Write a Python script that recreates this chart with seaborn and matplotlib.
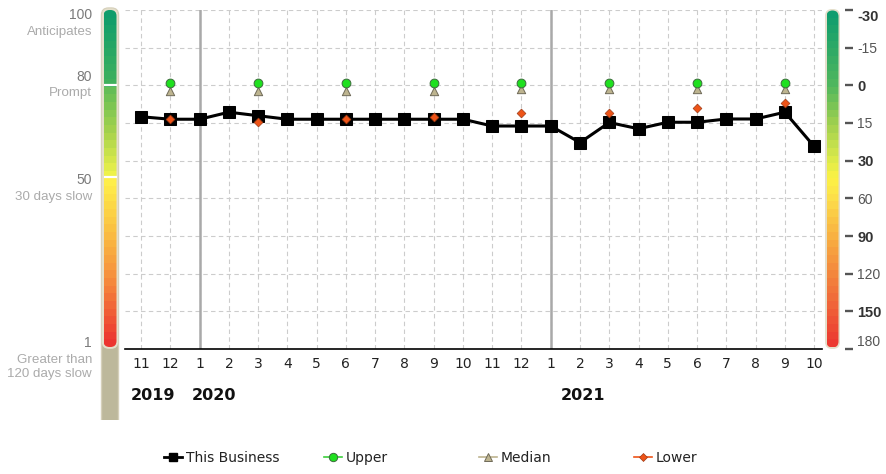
import numpy as np
import pandas as pd
import matplotlib
matplotlib.use("Agg")
import matplotlib.pyplot as plt
import seaborn as sns
from matplotlib.colors import LinearSegmentedColormap
from matplotlib.patches import FancyBboxPatch
from matplotlib.lines import Line2D

# ---------------------------------------------------------------- data
MONTHS = [11, 12, 1, 2, 3, 4, 5, 6, 7, 8, 9, 10,
          11, 12, 1, 2, 3, 4, 5, 6, 7, 8, 9, 10]
YEARS = [2019] * 2 + [2020] * 12 + [2021] * 10

# payment performance expressed as days beyond terms
nan = np.nan
BUSINESS = [12.5, 13.5, 13.5, 10.7, 12.1, 13.5, 13.5, 13.5, 13.5, 13.5, 13.5, 13.5,
            16.2, 16.2, 16.2, 22.8, 14.8, 17.3, 14.7, 14.7, 13.4, 13.4, 10.7, 24.3]
UPPER = [nan, -1.0, nan, nan, -1.0, nan, nan, -1.0, nan, nan, -1.0, nan,
         nan, -1.0, nan, nan, -1.0, nan, nan, -1.0, nan, nan, -1.0, nan]
MEDIAN = [nan, 2.1, nan, nan, 2.1, nan, nan, 2.1, nan, nan, 2.1, nan,
          nan, 1.6, nan, nan, 1.6, nan, nan, 1.6, nan, nan, 1.6, nan]
LOWER = [nan, 13.4, nan, nan, 14.7, nan, nan, 13.3, nan, nan, 12.5, nan,
         nan, 10.9, nan, nan, 10.9, nan, nan, 9.2, nan, nan, 6.9, nan]

DAY_TICKS = [-30, -15, 0, 15, 30, 60, 90, 120, 150, 180]
BOLD_DAYS = [-30, 0, 30, 90, 150]
SCORE_LABELS = ["100", "80", "50", "1"]
SCORE_TEXTS = ["Anticipates", "Prompt", "30 days slow", "Greater than\n120 days slow"]
YEAR_LABELS = [2019, 2020, 2021]
YEAR_LABEL_X = [0.4, 2.5, 15.1]

df = pd.DataFrame({"idx": np.arange(len(MONTHS)), "month": MONTHS, "year": YEARS,
                   "business": BUSINESS, "upper": UPPER,
                   "median": MEDIAN, "lower": LOWER})

# ------------------------------------------------- days axis (banded scale)
IDX = np.arange(len(DAY_TICKS), dtype=float)


def day_to_pos(d):
    d = np.asarray(d, dtype=float)
    return (np.interp(d, DAY_TICKS, IDX)
            + np.where(d < DAY_TICKS[0], (d - DAY_TICKS[0]) / 15.0, 0.0)
            + np.where(d > DAY_TICKS[-1], (d - DAY_TICKS[-1]) / 30.0, 0.0))


def pos_to_day(p):
    p = np.asarray(p, dtype=float)
    return (np.interp(p, IDX, DAY_TICKS)
            + np.where(p < 0, p * 15.0, 0.0)
            + np.where(p > IDX[-1], (p - IDX[-1]) * 30.0, 0.0))


# ---------------------------------------------------------------- figure
W, H = 886, 474
fig = plt.figure(figsize=(W / 100, H / 100), dpi=100)
fig.patch.set_facecolor("white")


def px_rect(x0, y0, x1, y1):
    return [x0 / W, 1 - y1 / H, (x1 - x0) / W, (y1 - y0) / H]


POS_TOP, POS_BOT = 0.0, 9.0            # band positions at the plot edges
PX_TOP, PX_BOT = 10, 349
PX_PER_POS = (PX_BOT - PX_TOP) / (POS_BOT - POS_TOP)

ax = fig.add_axes(px_rect(125, PX_TOP, 822, PX_BOT))
ax.set_yscale("function", functions=(day_to_pos, pos_to_day))

sns.lineplot(data=df, x="idx", y="business", ax=ax, color="black", lw=2.2,
             marker="s", markersize=8, markeredgecolor="black",
             legend=False, zorder=5)
sns.scatterplot(data=df, x="idx", y="median", ax=ax, marker="^", s=36,
                color="#bdb48f", edgecolor="#6f6a58", linewidth=0.7,
                legend=False, zorder=6)
sns.scatterplot(data=df, x="idx", y="upper", ax=ax, marker="o", s=40,
                color="#1fe01f", edgecolor="#3d6b3d", linewidth=0.7,
                legend=False, zorder=7)
sns.scatterplot(data=df, x="idx", y="lower", ax=ax, marker="D", s=20,
                color="#ee5418", edgecolor="#9c3a16", linewidth=0.5,
                legend=False, zorder=8)

ax.set_xlim(-0.55, 23.27)
ax.set_ylim(float(pos_to_day(POS_BOT)), float(pos_to_day(POS_TOP)))
ax.set_xlabel("")
ax.set_ylabel("")
ax.set_xticks(df["idx"])
ax.set_xticklabels([str(m) for m in MONTHS])
ax.set_yticks(DAY_TICKS)
ax.set_yticklabels([])
ax.tick_params(axis="y", length=0)
ax.tick_params(axis="x", length=0, pad=6, labelsize=10, labelcolor="#222222")
ax.grid(True, color="#cccccc", linestyle=(0, (4, 3)), linewidth=0.8)
ax.set_axisbelow(True)
for s in ("top", "left", "right"):
    ax.spines[s].set_visible(False)
ax.spines["bottom"].set_color("black")
ax.spines["bottom"].set_linewidth(1.2)
ax.patch.set_alpha(0)

# year boundaries
for i, m in zip(df["idx"], df["month"]):
    if m == 1:
        ax.axvline(i, color="#a9a9a9", lw=1.8, zorder=1.5)

for x, yr in zip(YEAR_LABEL_X, YEAR_LABELS):
    ax.text(x, (PX_BOT - 396) / (PX_BOT - PX_TOP), str(yr),
            transform=ax.get_xaxis_transform(), ha="center", va="center",
            fontsize=11.5, fontweight="bold", color="#111111")

# ------------------------------------------------------ right colour scale
right_cmap = LinearSegmentedColormap.from_list("days", [
    (0.000, "#0f9d6e"), (0.221, "#53b85d"), (0.333, "#a0d04f"),
    (0.442, "#dcea4a"), (0.500, "#fcf245"), (0.555, "#fde04a"),
    (0.667, "#f9b442"), (0.776, "#f48c3d"), (0.888, "#f06438"),
    (1.000, "#ec3a31")])
left_cmap = LinearSegmentedColormap.from_list("score", [
    (0.000, "#0f9d6b"), (0.220, "#43b25c"), (0.226, "#62bd56"),
    (0.356, "#a5d24c"), (0.490, "#eef24a"), (0.497, "#fff34a"),
    (0.650, "#fbc342"), (0.800, "#f6903d"), (1.000, "#ec3530")])
bands = np.linspace(0, 1, 44).reshape(-1, 1)
CREAM = "#e4dfcb"

ax_r = fig.add_axes(px_rect(823, 7, 845, 352))
r_top = POS_TOP + (7 - PX_TOP) / PX_PER_POS
r_bot = POS_TOP + (352 - PX_TOP) / PX_PER_POS
bar_top = POS_TOP + (9 - PX_TOP) / PX_PER_POS
bar_bot = POS_TOP + (349 - PX_TOP) / PX_PER_POS
in_top = POS_TOP + (10.5 - PX_TOP) / PX_PER_POS
in_bot = POS_TOP + (347.5 - PX_TOP) / PX_PER_POS
asp = 1.0 / PX_PER_POS
ax_r.add_patch(FancyBboxPatch((825, bar_top), 15, bar_bot - bar_top,
                              boxstyle="round,pad=0,rounding_size=7",
                              mutation_aspect=asp, fc=CREAM, ec="none",
                              zorder=1))
bar_clip = FancyBboxPatch((826.5, in_top), 12, in_bot - in_top,
                          boxstyle="round,pad=0,rounding_size=6",
                          mutation_aspect=asp, transform=ax_r.transData)
im = ax_r.imshow(bands, cmap=right_cmap, aspect="auto", interpolation="nearest",
                 extent=(826.5, 838.5, in_bot, in_top), zorder=2)
im.set_clip_path(bar_clip)
ax_r.set_xlim(823, 845)
ax_r.set_ylim(r_bot, r_top)
ax_r.yaxis.tick_right()
ax_r.set_yticks(IDX)
ax_r.set_yticklabels([str(d) for d in DAY_TICKS])
ax_r.set_xticks([])
ax_r.tick_params(axis="y", length=6, width=1.7, color="#555555", pad=3,
                 direction="out", labelsize=10, labelcolor="#555555")
for lab, d in zip(ax_r.get_yticklabels(), DAY_TICKS):
    lab.set_family("Liberation Sans")
    if d in BOLD_DAYS:
        lab.set_fontweight("bold")
        lab.set_color("#333333")
        lab.set_fontsize(10.5)
    if d == DAY_TICKS[-1]:
        lab.set_verticalalignment("bottom")
for t, d in zip(ax_r.yaxis.get_major_ticks(), DAY_TICKS):
    if d == DAY_TICKS[0]:
        t.label2.set_verticalalignment("top")
for s in ax_r.spines.values():
    s.set_visible(False)
ax_r.patch.set_alpha(0)

# ------------------------------------------------------- left score scale
ax_l = fig.add_axes(px_rect(98, 6, 122, 420))
ax_l.add_patch(FancyBboxPatch((101.5, 8), 17, 440,
                              boxstyle="round,pad=0,rounding_size=7",
                              fc="#bdb89b", ec="#d6d0ba", lw=1.0, zorder=1))
ax_l.add_patch(FancyBboxPatch((101.8, 8.3), 16.4, 340.5,
                              boxstyle="round,pad=0,rounding_size=7",
                              fc=CREAM, ec="none", zorder=1.5))
l_clip = FancyBboxPatch((103.5, 10), 13, 337,
                        boxstyle="round,pad=0,rounding_size=6",
                        transform=ax_l.transData)
im_l = ax_l.imshow(bands, cmap=left_cmap, aspect="auto", interpolation="nearest",
                   extent=(103.5, 116.5, 347, 10), zorder=2)
im_l.set_clip_path(l_clip)
ax_l.hlines([85, 177], 103.5, 116.5, color="white", lw=1.6, zorder=4)
ax_l.set_xlim(98, 122)
ax_l.set_ylim(420, 6)
ax_l.axis("off")

score_y = [15, 77, 180, 343]
text_y = [32, 93, 197, 367]
for num, desc, yn, yd in zip(SCORE_LABELS, SCORE_TEXTS, score_y, text_y):
    ax_l.text(92, yn, num, ha="right", va="center", fontsize=10,
              color="#7a7a7a", family="Liberation Sans", clip_on=False)
    ax_l.text(92, yd, desc, ha="right", va="center", fontsize=9.6,
              color="#ababab", family="Liberation Sans", clip_on=False,
              linespacing=1.25)

# ---------------------------------------------------------------- legend
legend_items = [
    ("This Business", Line2D([], [], color="black", lw=2, marker="s", ms=6)),
    ("Upper", Line2D([], [], color="#3ccf3c", lw=1.2, marker="o", ms=6,
                     mfc="#1fe01f", mec="#3d6b3d", mew=0.7)),
    ("Median", Line2D([], [], color="#bdb48f", lw=1.2, marker="^", ms=6,
                      mfc="#bdb48f", mec="#6f6a58", mew=0.7)),
    ("Lower", Line2D([], [], color="#ee5418", lw=1.2, marker="D", ms=4,
                     mfc="#ee5418", mec="#9c3a16", mew=0.5)),
]
legend_x = [164, 324, 479, 634]
for (label, handle), lx in zip(legend_items, legend_x):
    fig.legend([handle], [label], loc="center left",
               bbox_to_anchor=(lx / W, 1 - 458 / H), frameon=False,
               borderpad=0, borderaxespad=0, handlelength=1.3,
               handletextpad=0.25, fontsize=10, labelcolor="#222222")

fig.savefig("out.png", dpi=100)
